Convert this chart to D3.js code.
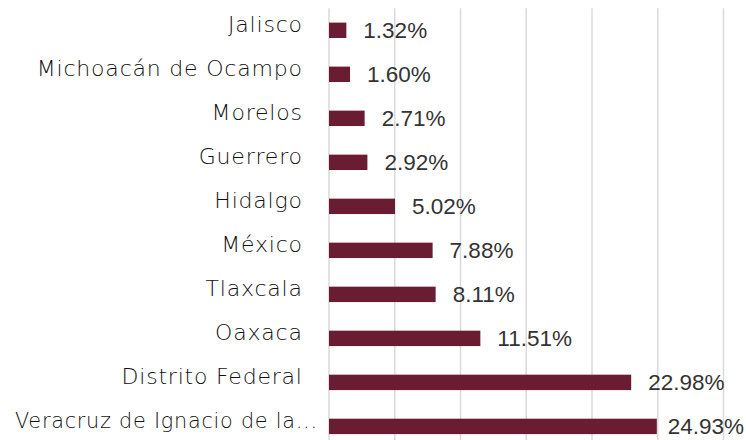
<!DOCTYPE html>
<html lang="es">
<head>
    <meta charset="UTF-8">
    <title>Porcentaje por entidad</title>
    <script src="https://d3js.org/d3.v7.min.js"></script>
    <style>
        body {
            margin: 0;
            background: white;
        }

        .cat {
            font-family: "DejaVu Sans", sans-serif;
            font-weight: 200;
            font-size: 22px;
            letter-spacing: 0.8px;
            fill: #111;
        }

        .val {
            font-family: "Liberation Sans", Arial, sans-serif;
            font-size: 22.5px;
            fill: #333;
        }

        .grid line {
            stroke: #d9d9d9;
            stroke-width: 1.5px;
        }
    </style>
</head>
<body>
<svg id="canvas" width="746" height="440"></svg>
<script>
    const categories = ["Jalisco", "Michoacán de Ocampo", "Morelos", "Guerrero", "Hidalgo",
        "México", "Tlaxcala", "Oaxaca", "Distrito Federal", "Veracruz de Ignacio de la..."]
    const values = [1.32, 1.60, 2.71, 2.92, 5.02, 7.88, 8.11, 11.51, 22.98, 24.93]
    const ticks = [0, 5, 10, 15, 20, 25, 30]

    let svg = d3.select('svg')
    let plotLeft = 329, plotRight = 723.5, plotTop = 8.3, plotBottom = 448.4

    let x = d3.scaleLinear().domain([0, 30]).range([plotLeft, plotRight])
    let y = d3.scaleBand().domain(categories).range([plotTop, plotBottom]).paddingInner(0.65).paddingOuter(0.325)

    svg.append('g').attr('class', 'grid')
        .selectAll('line')
        .data(ticks)
        .enter()
        .append('line')
        .attr('x1', d => x(d)).attr('x2', d => x(d))
        .attr('y1', plotTop).attr('y2', plotBottom)

    let data = categories.map((c, i) => ({cat: c, v: values[i]}))

    svg.append('g').selectAll('rect')
        .data(data)
        .enter()
        .append('rect')
        .attr('x', x(0))
        .attr('y', d => y(d.cat))
        .attr('width', d => x(d.v) - x(0))
        .attr('height', y.bandwidth())
        .attr('fill', '#6a1c32')

    // truncated label's dots run past the label column, like in the original
    let cats = svg.append('g').selectAll('text')
        .data(data)
        .enter()
        .append('text')
        .attr('class', 'cat')
        .attr('x', d => d.cat.endsWith('...') ? 317.8 : 302.8)
        .attr('y', d => y(d.cat) + y.bandwidth() / 2 + 2)
        .attr('text-anchor', 'end')
        .text(d => d.cat)

    cats.each(function (d) {
        let avail = (d.cat.endsWith('...') ? 317.8 : 302.8) - 15
        if (this.getComputedTextLength() > avail) {
            d3.select(this).attr('textLength', avail).attr('lengthAdjust', 'spacingAndGlyphs')
        }
    })

    let labels = svg.append('g').selectAll('text')
        .data(data)
        .enter()
        .append('text')
        .attr('class', 'val')
        .attr('y', d => y(d.cat) + y.bandwidth() / 2 + 8)
        .text(d => d.v.toFixed(2) + '%')

    // keep labels inside the picture
    labels.attr('x', function (d) {
        let w = this.getComputedTextLength()
        return Math.min(x(d.v) + 17, 744 - w)
    })
</script>
</body>
</html>
